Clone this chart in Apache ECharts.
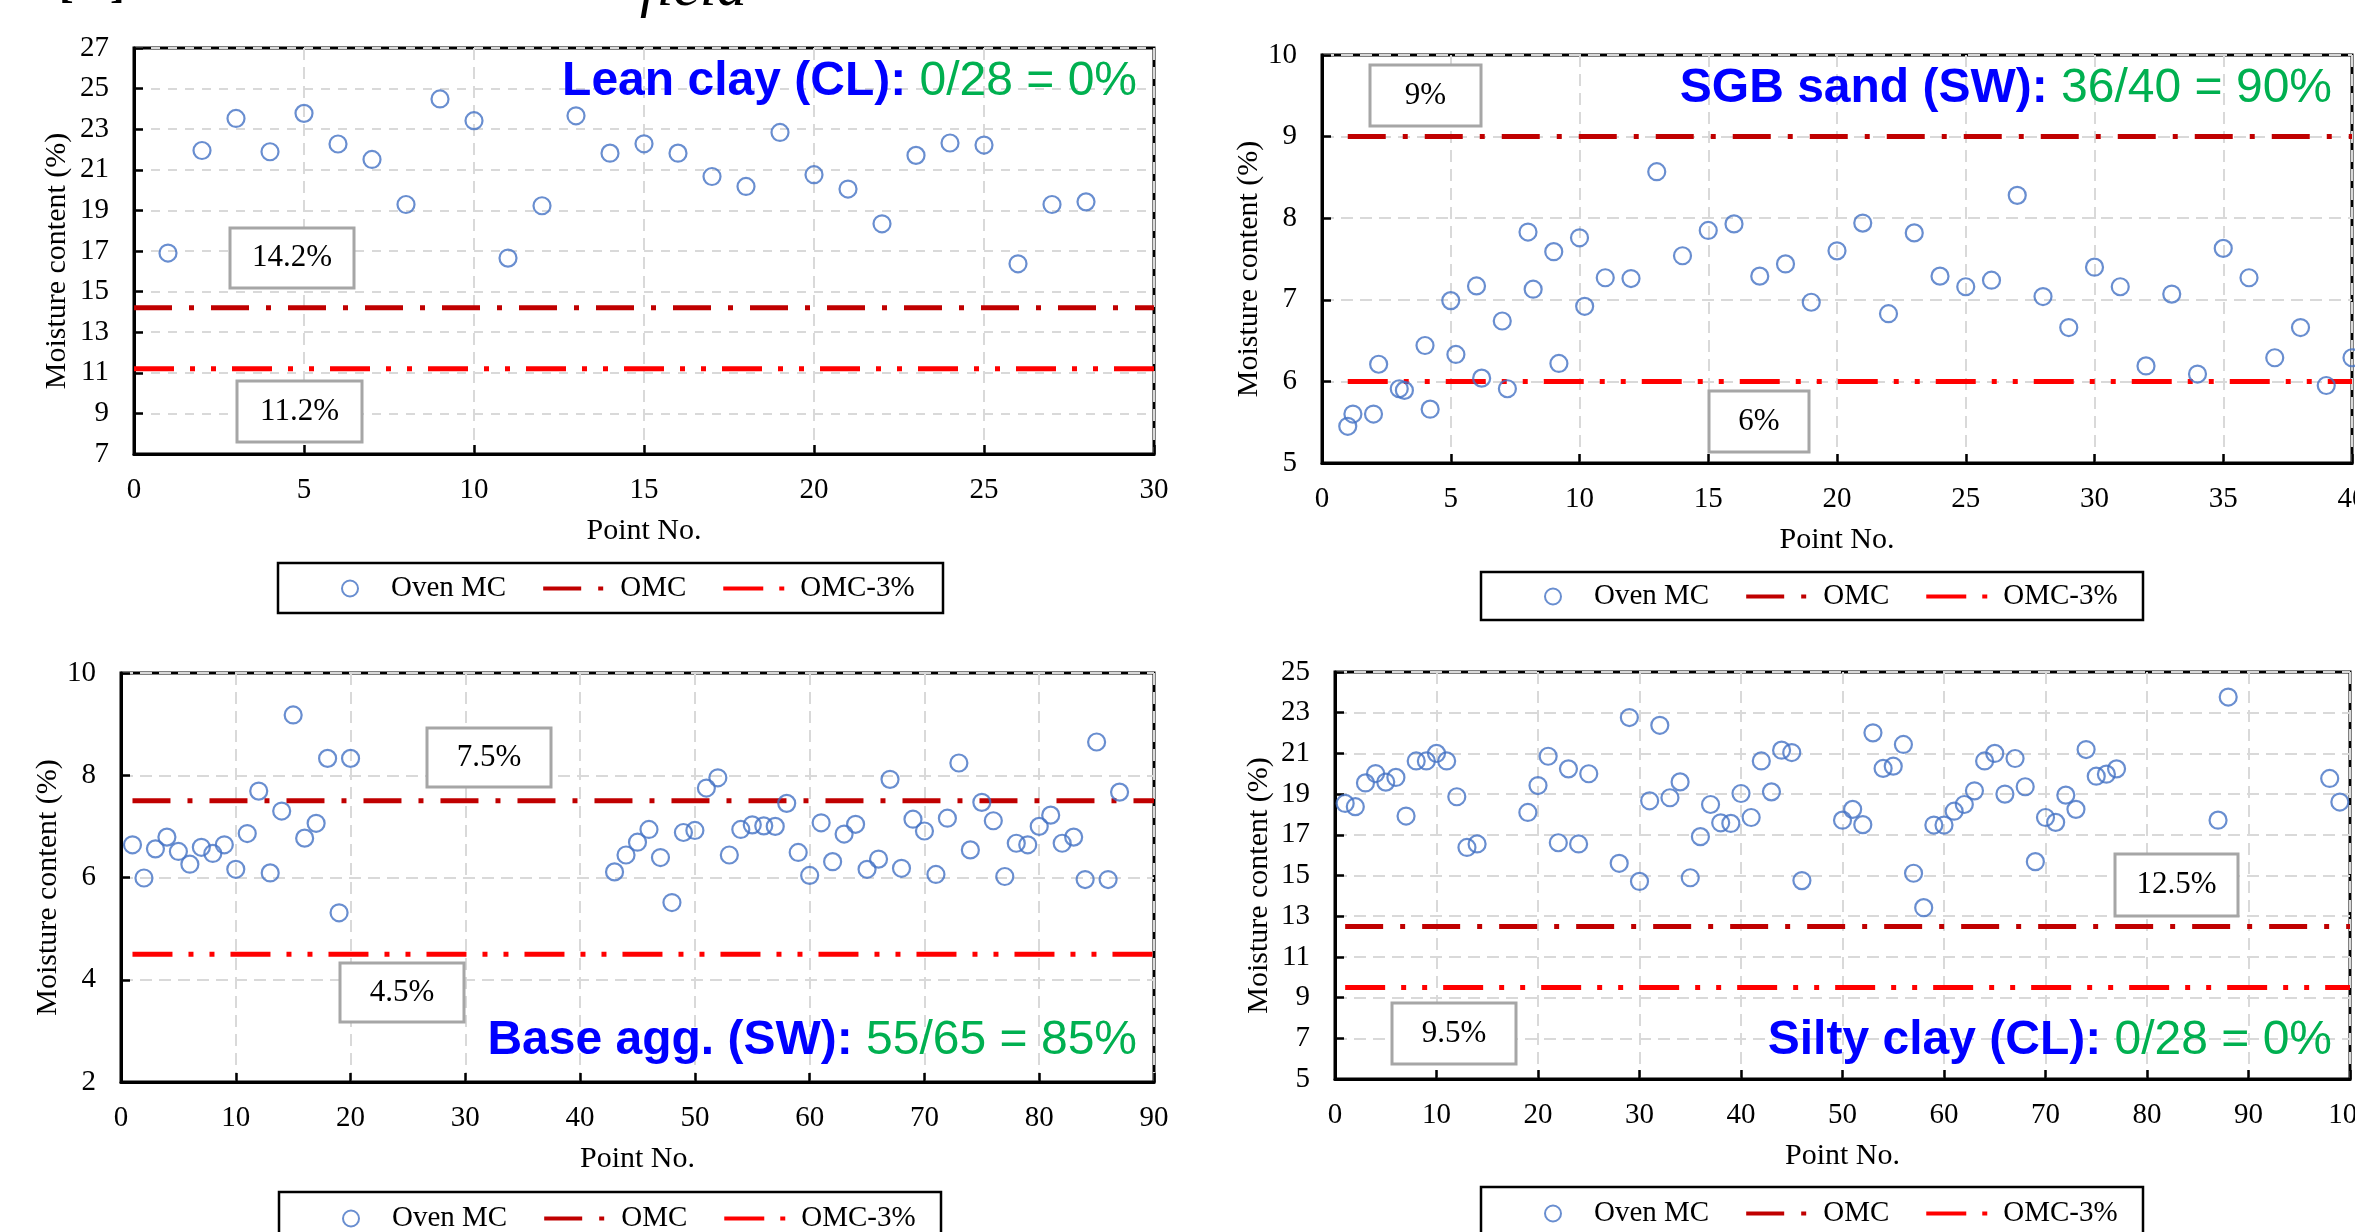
<!DOCTYPE html>
<html>
<head>
<meta charset="utf-8">
<script src="https://cdn.jsdelivr.net/npm/echarts@6/dist/echarts.min.js"></script>
<style>
  html, body { margin: 0; padding: 0; background: #fff; }
  #main { width: 2355px; height: 1232px; }
</style>
</head>
<body>
<div id="main"></div>
<script>
// data
var leanX = [1, 2, 3, 4, 5, 6, 7, 8, 9, 10, 11, 12, 13, 14, 15, 16, 17, 18, 19, 20, 21, 22, 23, 24, 25, 26, 27, 28];
var leanY = [16.9, 21.95, 23.53, 21.89, 23.78, 22.27, 21.51, 19.29, 24.49, 23.42, 16.65, 19.23, 23.66, 21.82,
  22.28, 21.82, 20.67, 20.18, 22.84, 20.76, 20.05, 18.34, 21.71, 22.32, 22.22, 16.37, 19.29, 19.42];

var sandX = [1, 1.2, 2, 2.2, 3, 3.2, 4, 4.2, 5, 5.2, 6, 6.2, 7, 7.2, 8, 8.2, 9, 9.2, 10, 10.2,
  11, 12, 13, 14, 15, 16, 17, 18, 19, 20, 21, 22, 23, 24, 25, 26, 27, 28, 29, 30,
  31, 32, 33, 34, 35, 36, 37, 38, 39, 40];
var sandY = [5.45, 5.6, 5.6, 6.21, 5.91, 5.89, 6.44, 5.66, 6.99, 6.33, 7.17, 6.04, 6.74, 5.91, 7.83, 7.13, 7.59, 6.22, 7.76, 6.92,
  7.27, 7.26, 8.57, 7.54, 7.85, 7.93, 7.29, 7.44, 6.97, 7.6, 7.94, 6.83, 7.82, 7.29, 7.16, 7.24, 8.28, 7.04, 6.66, 7.4,
  7.16, 6.19, 7.07, 6.09, 7.63, 7.27, 6.29, 6.66, 5.95, 6.29];

var baseX = [1, 2, 3, 4, 5, 6, 7, 8, 9, 10, 11, 12, 13, 14, 15, 16, 17, 18, 19, 20,
  43, 44, 45, 46, 47, 48, 49, 50, 51, 52, 53, 54, 55, 56, 57, 58, 59, 60, 61, 62, 63, 64, 65,
  66, 67, 68, 69, 70, 71, 72, 73, 74, 75, 76, 77, 78, 79, 80, 81, 82, 83, 84, 85, 86, 87];
var baseY = [6.64, 5.99, 6.56, 6.79, 6.51, 6.26, 6.59, 6.47, 6.64, 6.16, 6.86, 7.69, 6.09, 7.3, 9.18, 6.77, 7.06, 8.33, 5.31, 8.33,
  6.11, 6.44, 6.69, 6.94, 6.39, 5.51, 6.88, 6.92, 7.75, 7.95, 6.44, 6.94, 7.03, 7.01, 7.0, 7.45, 6.49, 6.04, 7.07, 6.31, 6.85, 7.04, 6.16,
  6.36, 7.92, 6.18, 7.14, 6.91, 6.06, 7.16, 8.24, 6.54, 7.47, 7.11, 6.02, 6.67, 6.64, 7.0, 7.22, 6.67, 6.79, 5.96, 8.65, 5.96, 7.67];

var siltX = [1, 2, 3, 4, 5, 6, 7, 8, 9, 10, 11, 12, 13, 14,
  19, 20, 21, 22, 23, 24, 25,
  28, 29, 30, 31, 32, 33, 34, 35, 36, 37, 38, 39, 40, 41, 42, 43, 44, 45, 46,
  50, 51, 52, 53, 54, 55, 56, 57, 58, 59, 60, 61, 62, 63, 64, 65, 66, 67, 68, 69, 70, 71, 72, 73, 74, 75, 76, 77,
  87, 88, 98, 99];
var siltY = [18.54, 18.38, 19.55, 20.01, 19.59, 19.82, 17.92, 20.63, 20.63, 21.0, 20.63, 18.87, 16.38, 16.55,
  18.1, 19.42, 20.86, 16.61, 20.24, 16.55, 20.0,
  15.6, 22.76, 14.71, 18.67, 22.38, 18.82, 19.6, 14.89, 16.91, 18.49, 17.59, 17.56, 19.03, 17.85, 20.63, 19.11, 21.16, 21.04, 14.75,
  17.72, 18.25, 17.5, 22.01, 20.26, 20.37, 21.44, 15.11, 13.42, 17.48, 17.48, 18.16, 18.49, 19.16, 20.63, 21.0, 19.0, 20.75,
  19.36, 15.68, 17.85, 17.61, 18.95, 18.25, 21.19, 19.88, 19.98, 20.24,
  17.72, 23.77, 19.77, 18.61];

var omcValues = [14.2, 9, 7.5, 12.5];
var omc3Values = [11.2, 6, 4.5, 9.5];
// x extent of the two reference lines in each panel
var lineStart = [0, 1, 1, 1];
var lineEnd = [30, 40, 90, 100];

var soilNames = ['Lean clay (CL):', 'SGB sand (SW):', 'Base agg. (SW):', 'Silty clay (CL):'];
var passRates = ['0/28 = 0%', '36/40 = 90%', '55/65 = 85%', '0/28 = 0%'];
var legendNames = ['Oven MC', 'OMC', 'OMC-3%'];

var xMin = [0, 0, 0, 0];
var xMax = [30, 40, 90, 100];
var xStep = [5, 5, 10, 10];
var yMin = [7, 5, 2, 5];
var yMax = [27, 10, 10, 25];
var yStep = [2, 1, 2, 2];

var pointsX = [leanX, sandX, baseX, siltX];
var pointsY = [leanY, sandY, baseY, siltY];

var chart = echarts.init(document.getElementById('main'));
var serif = 'Liberation Serif';
var sans = 'Liberation Sans';

// layout of each panel
var grids = [
  { left: 134, top: 48, width: 1020, height: 406 },
  { left: 1322, top: 55, width: 1030, height: 408 },
  { left: 121, top: 673, width: 1033, height: 409 },
  { left: 1335, top: 672, width: 1015, height: 407 }
];
var yNameGap = [62, 50, 49, 61];
// legend frame: x, y, w, h
var legendBox = [[278, 563, 665, 50], [1481, 572, 662, 48], [279, 1192, 662, 52], [1481, 1187, 662, 52]];
var titlePos = [[1218, 54], [23, 61], [1218, 1013], [23, 1013]];
var omcBox = [[230, 228, 124, 60], [1370, 65, 111, 61], [427, 728, 124, 59], [2115, 854, 123, 62]];
var omc3Box = [[237, 381, 125, 61], [1709, 391, 100, 61], [340, 963, 124, 59], [1392, 1003, 124, 61]];

var gridLine = { color: '#D9D9D9', width: 2, type: [12, 7] };
var hiddenIcon = { color: 'transparent', borderColor: 'transparent', borderWidth: 0, opacity: 0 };

var option = {
  animation: false,
  backgroundColor: '#fff',
  grid: [], xAxis: [], yAxis: [], series: [], title: [], legend: [], graphic: []
};

function box(r, txt) {
  return [{
    type: 'rect', z: 50,
    shape: { x: r[0], y: r[1], width: r[2], height: r[3] },
    style: { fill: '#fff', stroke: '#A6A6A6', lineWidth: 3 }
  }, {
    type: 'text', z: 51,
    x: r[0] + r[2] / 2, y: r[1] + r[3] / 2,
    style: { text: txt, font: '31px "Liberation Serif"', fill: '#000', align: 'center', verticalAlign: 'middle' }
  }];
}

for (var i = 0; i < 4; i++) {
  var g = grids[i];
  option.grid.push({
    left: g.left, top: g.top, width: g.width, height: g.height,
    outerBoundsMode: 'none', containLabel: false,
    show: true, borderColor: '#000', borderWidth: 3, backgroundColor: 'transparent'
  });
  option.xAxis.push({
    gridIndex: i, type: 'value', min: xMin[i], max: xMax[i], interval: xStep[i],
    name: 'Point No.', nameLocation: 'middle', nameGap: 62,
    nameTextStyle: { fontFamily: serif, fontSize: 30, color: '#000' },
    axisLine: { show: true, lineStyle: { color: '#000', width: 3 } },
    axisTick: { show: true, inside: true, length: 9, lineStyle: { color: '#000', width: 2.5 } },
    axisLabel: { fontFamily: serif, fontSize: 29, color: '#000', margin: 22 },
    splitLine: { show: true, lineStyle: gridLine }
  });
  option.yAxis.push({
    gridIndex: i, type: 'value', min: yMin[i], max: yMax[i], interval: yStep[i],
    name: 'Moisture content (%)', nameLocation: 'middle', nameGap: yNameGap[i],
    nameTextStyle: { fontFamily: serif, fontSize: 30, color: '#000', padding: [0, 20, 0, 0] },
    axisLine: { show: true, lineStyle: { color: '#000', width: 3 } },
    axisTick: { show: true, inside: true, length: 9, lineStyle: { color: '#000', width: 2.5 } },
    axisLabel: { fontFamily: serif, fontSize: 29, color: '#000', margin: 25 },
    splitLine: { show: true, lineStyle: i === 0 ? { color: '#D9D9D9', width: 2, type: [9, 8] } : gridLine }
  });

  var pts = [];
  for (var k = 0; k < pointsX[i].length; k++) pts.push([pointsX[i][k], pointsY[i][k]]);

  option.series.push({
    name: 'Oven MC', type: 'scatter', xAxisIndex: i, yAxisIndex: i,
    symbol: 'circle', symbolSize: 17,
    itemStyle: { color: 'transparent', borderColor: '#4472C4', borderWidth: 2.2 },
    data: pts, z: 3
  });
  option.series.push({
    name: 'OMC', type: 'line', xAxisIndex: i, yAxisIndex: i, symbol: 'none',
    lineStyle: { color: '#C00000', width: 5, type: [38, 17, 5, 17] },
    itemStyle: { color: '#C00000' },
    data: [[lineStart[i], omcValues[i]], [lineEnd[i], omcValues[i]]], z: 2
  });
  option.series.push({
    name: 'OMC-3%', type: 'line', xAxisIndex: i, yAxisIndex: i, symbol: 'none',
    lineStyle: { color: '#FF0000', width: 5, type: [40, 16, 5, 16, 5, 16] },
    itemStyle: { color: '#FF0000' },
    data: [[lineStart[i], omc3Values[i]], [lineEnd[i], omc3Values[i]]], z: 2
  });

  option.title.push({
    right: titlePos[i][0], top: titlePos[i][1], padding: 0,
    text: '{a|' + soilNames[i] + '}{b| ' + passRates[i] + '}',
    textStyle: {
      rich: {
        a: { fontFamily: sans, fontWeight: 'bold', fontSize: 48, color: '#0000FF', lineHeight: 56 },
        b: { fontFamily: sans, fontWeight: 'normal', fontSize: 48, color: '#00B050', lineHeight: 56 }
      }
    }
  });

  var lb = legendBox[i];
  option.legend.push({
    left: lb[0] + 63, top: lb[1] + lb[3] / 2 - 14,
    data: [
      { name: legendNames[0] },
      { name: legendNames[1], itemStyle: hiddenIcon },
      { name: legendNames[2], itemStyle: hiddenIcon }
    ],
    selectedMode: false,
    itemWidth: 72, itemHeight: 16, itemGap: 35,
    padding: 0,
    lineStyle: { width: 4 },
    textStyle: { fontFamily: serif, fontSize: 29, color: '#000' }
  });
  option.graphic.push({
    type: 'rect', z: 40,
    shape: { x: lb[0], y: lb[1], width: lb[2], height: lb[3] },
    style: { fill: 'transparent', stroke: '#000', lineWidth: 2.5 }
  });

  option.graphic = option.graphic.concat(box(omcBox[i], omcValues[i] + '%'), box(omc3Box[i], omc3Values[i] + '%'));
}

// bottom of the cut-off heading above the figure
option.graphic.push(
  { type: 'text', x: 59, y: -14, style: { text: '[', font: 'bold 44px "Liberation Serif"', fill: '#000', verticalAlign: 'middle' } },
  { type: 'text', x: 110, y: -14, style: { text: ']', font: 'bold 44px "Liberation Serif"', fill: '#000', verticalAlign: 'middle' } },
  { type: 'text', x: 640, y: -11, style: { text: 'field', font: 'italic 60px "Liberation Serif"', fill: '#000', verticalAlign: 'middle' } }
);

chart.setOption(option);
</script>
</body>
</html>
